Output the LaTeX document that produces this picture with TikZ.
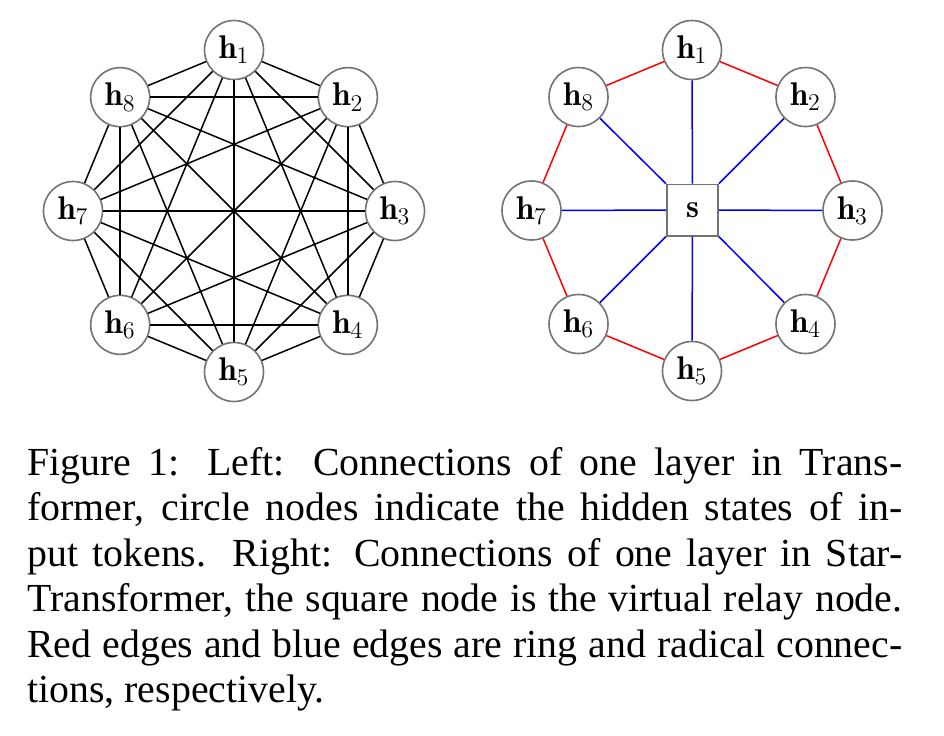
\documentclass[tikz,border=0pt]{standalone}
\usepackage{fontspec}
\newfontfamily\capfont{Liberation Serif}
\begin{document}
\begin{tikzpicture}[x=0.5pt,y=-0.5pt,
  hnode/.style={circle, draw=black!55, line width=0.8pt, minimum size=29.5pt, inner sep=0pt, fill=white, font=\fontsize{16.4}{20}\selectfont},
  snode/.style={rectangle, draw=black!55, line width=0.8pt, minimum size=25.7pt, inner sep=0pt, fill=white, font=\fontsize{16.4}{20}\selectfont},
  edgeline/.style={line width=0.75pt},
  capline/.style={anchor=base west, inner sep=0pt, font=\capfont\fontsize{19.9}{24}\selectfont}]
\useasboundingbox (0,0) rectangle (944,735);
\foreach \k in {1,...,8}{
  \pgfmathsetmacro\ang{90-45*(\k-1)}
  \pgfmathsetmacro\lx{234+161*cos(\ang)}
  \pgfmathsetmacro\ly{211-161*sin(\ang)}
  \node[hnode] (L\k) at (\lx,\ly) {$\mathbf{h}_{\k}$};
  \pgfmathsetmacro\rx{692+160.5*cos(\ang)}
  \pgfmathsetmacro\ry{210.5-160.5*sin(\ang)}
  \node[hnode] (R\k) at (\rx,\ry) {$\mathbf{h}_{\k}$};
}
\node[snode] (s) at (692.5,210) {$\mathbf{s}$};
\foreach \i in {1,...,7}{
  \pgfmathtruncatemacro\nx{\i+1}
  \foreach \j in {\nx,...,8}{\draw[edgeline] (L\i) -- (L\j);}
}
\foreach \k in {1,...,8}{
  \pgfmathtruncatemacro\nx{mod(\k,8)+1}
  \draw[edgeline,red] (R\k) -- (R\nx);
  \draw[edgeline,blue] (s) -- (R\k);
}
\node[capline] (c1) at (27,475) {\makebox[437.5pt][s]{Figure 1: Left: Connections of one layer in Trans-}};
\node[capline] (c2) at (27,520.5) {\makebox[437.5pt][s]{former, circle nodes indicate the hidden states of in-}};
\node[capline] (c3) at (27,566) {\makebox[437.5pt][s]{put tokens. Right: Connections of one layer in Star-}};
\node[capline] (c4) at (27,611.5) {\makebox[437.5pt][s]{Transformer, the square node is the virtual relay node.}};
\node[capline] (c5) at (27,657) {\makebox[437.5pt][s]{Red edges and blue edges are ring and radical connec-}};
\node[capline] (c6) at (27,702.5) {tions, respectively.};
\end{tikzpicture}
\end{document}
